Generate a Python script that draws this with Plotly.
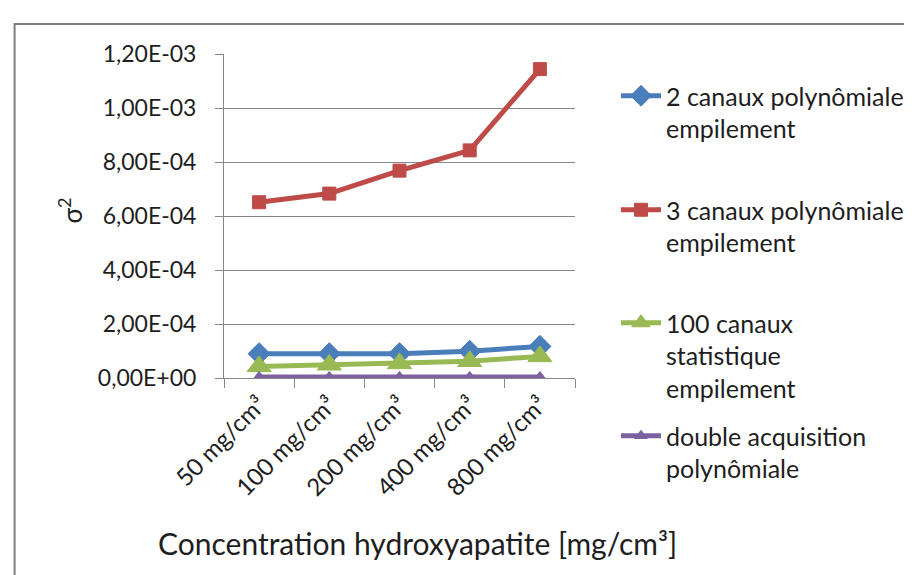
import plotly.graph_objects as go

categories = ["50 mg/cm³", "100 mg/cm³", "200 mg/cm³", "400 mg/cm³", "800 mg/cm³"]
names = ["2 canaux polynômiale<br>empilement",
         "3 canaux polynômiale<br>empilement",
         "100 canaux<br>statistique<br>empilement",
         "double acquisition<br>polynômiale"]
blue_vals = [9.0e-5, 9.0e-5, 9.0e-5, 9.9e-5, 1.17e-4]
red_vals = [6.51e-4, 6.83e-4, 7.68e-4, 8.43e-4, 1.144e-3]
green_vals = [4.3e-5, 4.9e-5, 5.4e-5, 6.2e-5, 8.0e-5]
purple_vals = [4e-6, 4e-6, 4e-6, 4e-6, 4e-6]
ytick_vals = [0, 2e-4, 4e-4, 6e-4, 8e-4, 1e-3, 1.2e-3]
ytick_text = ["0,00E+00", "2,00E-04", "4,00E-04", "6,00E-04", "8,00E-04", "1,00E-03", "1,20E-03"]

FONT = "Lato"
TXT = "#1e1e1e"
GRID = "#868686"

# plot area in pixels
W, H = 912, 575
L, R, T, B = 216, 568, 46, 370
pw, ph = R - L, B - T

def px(x):
    return (x - L) / pw

def py(y):
    return (B - y) / ph

series = [
    (names[0], blue_vals, "#4A7EBB", "diamond", 17, "legend"),
    (names[1], red_vals, "#BE4B48", "square", 13, "legend2"),
    (names[2], green_vals, "#98B954", "triangle-up", 21, "legend3"),
    (names[3], purple_vals, "#7D60A0", "triangle-up", 11, "legend4"),
]

fig = go.Figure()
for name, vals, col, sym, size, lg in series:
    fig.add_trace(go.Scatter(
        x=categories, y=vals, name=name, mode="lines+markers",
        line=dict(color=col, width=5),
        marker=dict(symbol=sym, size=size, color=col, line=dict(color=col, width=1)),
        legend=lg,
    ))

legend_tops = [65, 179, 292, 405]
leg_common = dict(font=dict(family=FONT, size=25, color=TXT), bgcolor="rgba(0,0,0,0)",
                  valign="top", xanchor="left", yanchor="top", tracegroupgap=0,
                  itemwidth=40)
layout_legends = {}
for i, top in enumerate(legend_tops):
    key = "legend" if i == 0 else f"legend{i+1}"
    layout_legends[key] = dict(x=px(608), y=py(top), **leg_common)

fig.update_layout(
    width=W, height=H,
    margin=dict(l=L, r=W - R, t=T, b=H - B),
    paper_bgcolor="white", plot_bgcolor="white",
    font=dict(family=FONT, size=24, color=TXT),
    showlegend=True,
    **layout_legends,
)

fig.update_xaxes(
    type="category", range=[-0.5, 4.5],
    showline=True, linecolor=GRID, linewidth=1,
    ticks="outside", tickson="boundaries", ticklen=9, tickcolor=GRID,
    tickangle=-45, tickfont=dict(family=FONT, size=24, color=TXT),
    ticklabelstandoff=2,
    showgrid=False, zeroline=False,
)
fig.update_yaxes(
    range=[0, 1.2e-3], tickvals=ytick_vals, ticktext=ytick_text,
    showline=True, linecolor=GRID, linewidth=1,
    ticks="outside", ticklen=8, tickcolor=GRID,
    tickfont=dict(family=FONT, size=23, color=TXT),
    ticklabelstandoff=14,
    showgrid=True, gridcolor=GRID, gridwidth=1, zeroline=False,
)

fig.add_annotation(text="Concentration hydroxyapatite [mg/cm³]", xref="paper", yref="paper",
                   x=px(410), y=py(535), xanchor="center", yanchor="middle", showarrow=False,
                   font=dict(family=FONT, size=30, color=TXT))
fig.add_annotation(text="σ<sup>2</sup>", xref="paper", yref="paper",
                   x=px(62), y=py(202), xanchor="center", yanchor="middle",
                   showarrow=False, textangle=-90,
                   font=dict(family=FONT, size=26, color=TXT))

fig.add_shape(type="rect", xref="paper", yref="paper",
              x0=px(6), y0=py(16), x1=px(930), y1=py(600),
              line=dict(color="#7F7F7F", width=2), fillcolor="rgba(0,0,0,0)", layer="below")

fig.write_html("out.html")
